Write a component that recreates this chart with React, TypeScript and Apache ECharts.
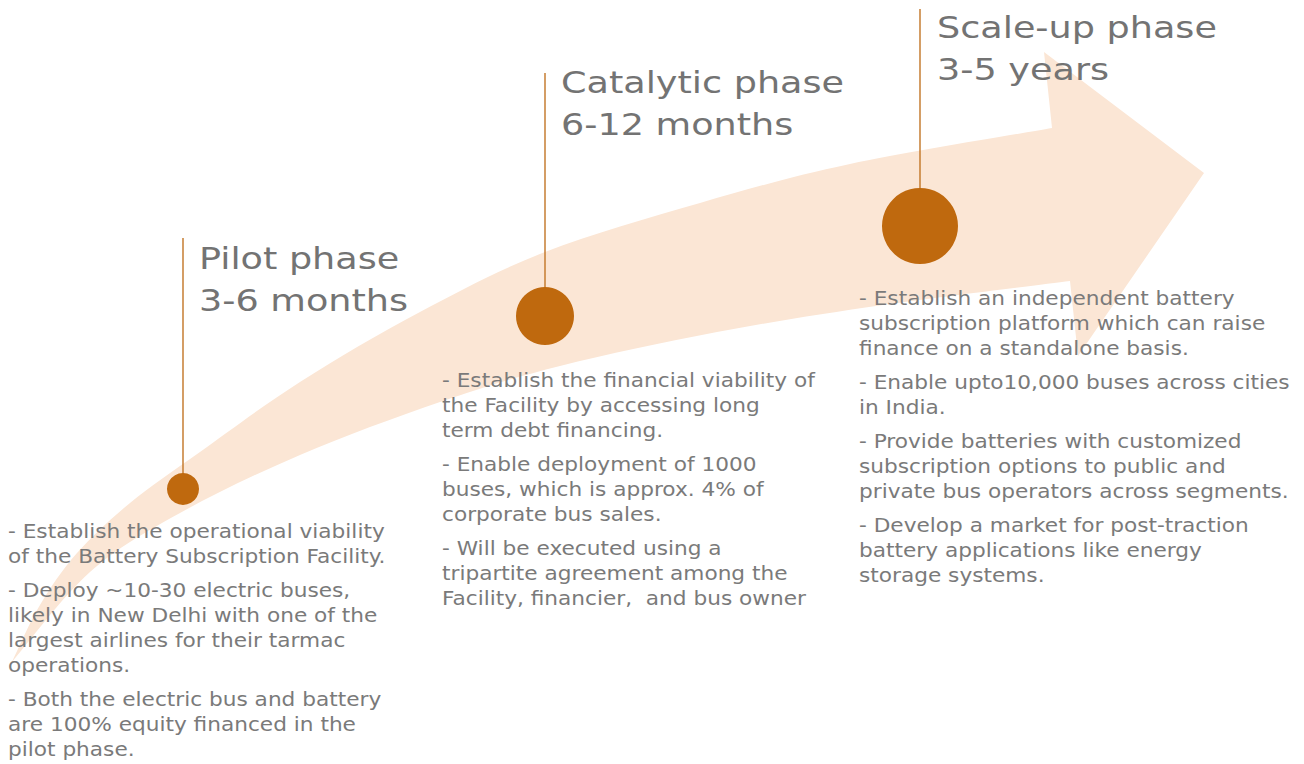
import React, { useEffect, useRef } from "react";
import * as echarts from "echarts";

// ---- data ----
const phaseTitles = ["Pilot phase", "Catalytic phase", "Scale-up phase"];
const phaseDurations = ["3-6 months", "6-12 months", "3-5 years"];
const milestoneX = [183, 545, 920];
const milestoneY = [489, 316, 226];
const milestoneSize = [32, 58, 76];
const stemTopY = [238, 73, 9];

const arrowUpperEdge = [
  [12, 662], [40, 605], [77, 553], [130, 503], [200, 452], [300, 382],
  [420, 312], [545, 252], [700, 203], [850, 164], [1052, 128],
];
const arrowHead = [[1044, 52], [1204, 173], [1078, 356]];
const arrowLowerEdge = [
  [1070, 281], [883, 305], [717, 332], [560, 366], [440, 402], [300, 455],
  [180, 513], [90, 572], [12, 662],
];

const pilotBullets = [
  "- Establish the operational viability\nof the Battery Subscription Facility.",
  "- Deploy ~10-30 electric buses,\nlikely in New Delhi with one of the\nlargest airlines for their tarmac\noperations.",
  "- Both the electric bus and battery\nare 100% equity financed in the\npilot phase.",
];
const catalyticBullets = [
  "- Establish the financial viability of\nthe Facility by accessing long\nterm debt financing.",
  "- Enable deployment of 1000\nbuses, which is approx. 4% of\ncorporate bus sales.",
  "- Will be executed using a\ntripartite agreement among the\nFacility, financier,  and bus owner",
];
const scaleBullets = [
  "- Establish an independent battery\nsubscription platform which can raise\nfinance on a standalone basis.",
  "- Enable upto10,000 buses across cities\nin India.",
  "- Provide batteries with customized\nsubscription options to public and\nprivate bus operators across segments.",
  "- Develop a market for post-traction\nbattery applications like energy\nstorage systems.",
];

const W = 1304;
const H = 764;
const FONT = "'DejaVu Sans', sans-serif";
const TEXT_COLOR = "#7a7a7a";
const BULLET_SIZE = 19;
const TITLE_SIZE = 31;

function measure(text: string, size: number): number {
  const c = document.createElement("canvas").getContext("2d");
  if (!c) return 1;
  c.font = `${size}px ${FONT}`;
  return c.measureText(text).width;
}

function catmull(pts: number[][]): string {
  let d = "";
  for (let i = 0; i < pts.length - 1; i++) {
    const p0 = pts[i - 1] || pts[i];
    const p1 = pts[i];
    const p2 = pts[i + 1];
    const p3 = pts[i + 2] || p2;
    const c1 = [p1[0] + (p2[0] - p0[0]) / 6, p1[1] + (p2[1] - p0[1]) / 6];
    const c2 = [p2[0] - (p3[0] - p1[0]) / 6, p2[1] - (p3[1] - p1[1]) / 6];
    d += ` C${c1[0]},${c1[1]} ${c2[0]},${c2[1]} ${p2[0]},${p2[1]}`;
  }
  return d;
}

function bulletBlocks(items: string[], x: number, firstY: number, sx: number) {
  const out: any[] = [];
  let y = firstY;
  items.forEach((t) => {
    out.push({
      type: "text",
      x,
      y: y - 12.5,
      scaleX: sx,
      z: 10,
      silent: true,
      style: {
        text: t,
        fill: TEXT_COLOR,
        font: `${BULLET_SIZE}px ${FONT}`,
        lineHeight: 25,
        verticalAlign: "top",
      },
    });
    y += t.split("\n").length * 25 + 9;
  });
  return out;
}

export default function App() {
  const ref = useRef<HTMLDivElement>(null);
  useEffect(() => {
    if (!ref.current) return;
    const chart = echarts.init(ref.current, undefined, { renderer: "svg" });
    const bulletScale = 377 / measure("- Establish the operational viability", BULLET_SIZE);
    const titleScale = 280 / measure("Scale-up phase", TITLE_SIZE);
    const titleX = [199, 561, 937];
    const titleY = [258, 82, 27];
    const graphics: any[] = [];
    phaseTitles.forEach((t, i) => {
      graphics.push({
        type: "text",
        x: titleX[i],
        y: titleY[i] - 21,
        scaleX: titleScale,
        z: 10,
        silent: true,
        style: {
          text: t + "\n" + phaseDurations[i],
          fill: "#737373",
          font: `${TITLE_SIZE}px ${FONT}`,
          lineHeight: 42,
          verticalAlign: "top",
        },
      });
    });
    graphics.push(...bulletBlocks(pilotBullets, 8, 531, bulletScale));
    graphics.push(...bulletBlocks(catalyticBullets, 442, 380, bulletScale));
    graphics.push(...bulletBlocks(scaleBullets, 859, 298, bulletScale));

    chart.setOption({
      animation: false,
      backgroundColor: "#ffffff",
      grid: { left: 0, right: 0, top: 0, bottom: 0 },
      xAxis: { type: "value", min: 0, max: W, show: false },
      yAxis: { type: "value", min: 0, max: H, inverse: true, show: false },
      series: [
        {
          type: "custom",
          z: 1,
          clip: false,
          silent: true,
          data: [[0, 0]],
          renderItem: (params: any, api: any) => {
            const up = arrowUpperEdge.map((p) => api.coord(p));
            const head = arrowHead.map((p) => api.coord(p));
            const low = arrowLowerEdge.map((p) => api.coord(p));
            let d = `M${up[0][0]},${up[0][1]}` + catmull(up);
            head.forEach((p) => (d += ` L${p[0]},${p[1]}`));
            d += ` L${low[0][0]},${low[0][1]}` + catmull(low) + " Z";
            return {
              type: "path",
              shape: { pathData: d },
              style: { fill: "#FBE6D5" },
            };
          },
        },
        {
          type: "custom",
          z: 2,
          clip: false,
          silent: true,
          data: milestoneX.map((x, i) => [x, stemTopY[i], milestoneY[i]]),
          renderItem: (params: any, api: any) => {
            const a = api.coord([api.value(0), api.value(1)]);
            const b = api.coord([api.value(0), api.value(2)]);
            return {
              type: "line",
              shape: { x1: a[0], y1: a[1], x2: b[0], y2: b[1] },
              style: { stroke: "#C27424", lineWidth: 1.4 },
            };
          },
        },
        {
          type: "scatter",
          z: 3,
          silent: true,
          symbol: "circle",
          data: milestoneX.map((x, i) => [x, milestoneY[i], milestoneSize[i]]),
          symbolSize: (v: number[]) => v[2],
          itemStyle: { color: "#BF690E", opacity: 1 },
        },
      ],
      graphic: graphics,
    });
    return () => chart.dispose();
  }, []);
  return (
    <div
      ref={ref}
      style={{ position: "absolute", left: 0, top: 0, width: W, height: H, background: "#fff" }}
    />
  );
}
